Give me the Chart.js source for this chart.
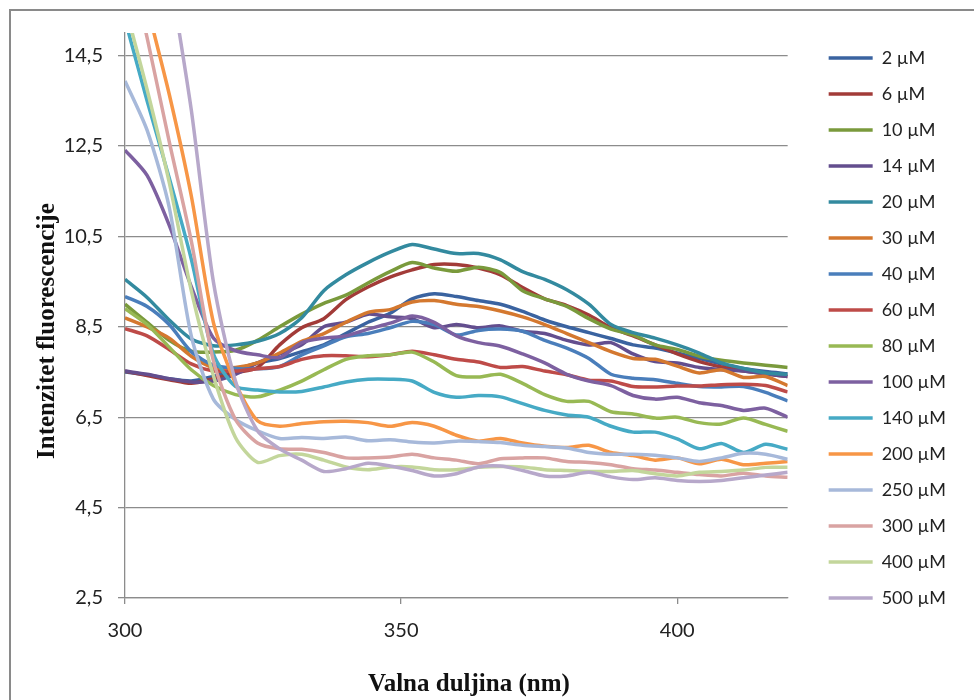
<!DOCTYPE html>
<html>
<head>
<meta charset="utf-8">
<script src="https://cdn.jsdelivr.net/npm/chart.js@4.4.1/dist/chart.umd.min.js"></script>
<style>
  body { margin: 0; background: #fff; }
  #frame { position: absolute; left: 9px; top: 9px; width: 1000px; height: 720px; border: 2px solid #8a8a8a; }
  #wrap { position: absolute; left: 0; top: 0; width: 974px; height: 700px; }
</style>
</head>
<body>
<div id="frame"></div>
<div id="wrap"><canvas id="chart"></canvas></div>
<script>
// wavelength (nm), every 4 nm
const wavelengths = [300, 304, 308, 312, 316, 320, 324, 328, 332, 336, 340, 344, 348, 352, 356, 360,
  364, 368, 372, 376, 380, 384, 388, 392, 396, 400, 404, 408, 412, 416, 420];

const xTicks = [300, 350, 400];
const yTicks = [2.5, 4.5, 6.5, 8.5, 10.5, 12.5, 14.5];

const labels = ['2 µM', '6 µM', '10 µM', '14 µM', '20 µM', '30 µM', '40 µM', '60 µM',
  '80 µM', '100 µM', '140 µM', '200 µM', '250 µM', '300 µM', '400 µM', '500 µM'];

const colors = ['#3A63A0', '#A23B38', '#7A9A3C', '#634E8E', '#338A9F', '#D4782F', '#4A7EBB', '#BE4B48',
  '#98B954', '#7D60A0', '#46AAC5', '#F79646', '#A7B9DA', '#D9A3A2', '#C3D69B', '#B7A8CA'];

const um2 = [7.5, 7.44, 7.35, 7.3, 7.4, 7.55, 7.7, 7.8, 7.95, 8.1, 8.35, 8.6, 8.8, 9.12, 9.23, 9.17,
  9.08, 9.0, 8.84, 8.65, 8.5, 8.37, 8.24, 8.1, 8.03, 7.92, 7.8, 7.68, 7.58, 7.51, 7.46];
const um6 = [7.52, 7.42, 7.33, 7.25, 7.35, 7.48, 7.6, 8.1, 8.48, 8.68, 9.1, 9.38, 9.6, 9.76, 9.88, 9.88,
  9.8, 9.65, 9.37, 9.12, 8.97, 8.76, 8.48, 8.3, 8.1, 7.9, 7.73, 7.61, 7.52, 7.46, 7.4];
const um10 = [9.0, 8.6, 8.2, 7.96, 7.94, 7.98, 8.2, 8.5, 8.78, 9.02, 9.2, 9.47, 9.72, 9.92, 9.8, 9.73,
  9.82, 9.7, 9.3, 9.12, 8.95, 8.68, 8.45, 8.32, 8.1, 8.0, 7.85, 7.76, 7.7, 7.65, 7.6];
const um14 = [7.52, 7.45, 7.35, 7.28, 7.3, 7.45, 7.7, 7.9, 8.1, 8.5, 8.6, 8.78, 8.72, 8.68, 8.48, 8.55,
  8.48, 8.52, 8.4, 8.35, 8.2, 8.1, 8.15, 7.9, 7.73, 7.7, 7.6, 7.55, 7.52, 7.46, 7.4];
const um20 = [9.55, 9.15, 8.65, 8.23, 8.08, 8.1, 8.18, 8.35, 8.7, 9.3, 9.65, 9.92, 10.15, 10.32, 10.22, 10.12,
  10.12, 9.98, 9.72, 9.55, 9.32, 9.0, 8.55, 8.37, 8.25, 8.1, 7.92, 7.7, 7.58, 7.48, 7.45];
const um30 = [8.7, 8.5, 8.25, 7.85, 7.6, 7.6, 7.7, 7.92, 8.18, 8.35, 8.6, 8.82, 8.88, 9.05, 9.08, 9.0,
  8.95, 8.85, 8.72, 8.55, 8.35, 8.15, 7.95, 7.8, 7.78, 7.63, 7.48, 7.55, 7.38, 7.4, 7.2];
const um40 = [9.17, 8.95, 8.55, 7.95, 7.65, 7.58, 7.57, 7.62, 7.88, 8.08, 8.28, 8.35, 8.48, 8.62, 8.55, 8.32,
  8.42, 8.45, 8.4, 8.2, 8.03, 7.8, 7.45, 7.36, 7.33, 7.25, 7.18, 7.17, 7.18, 7.05, 6.86];
const um60 = [8.46, 8.3, 8.0, 7.68, 7.52, 7.52, 7.57, 7.62, 7.78, 7.86, 7.86, 7.84, 7.88, 7.96, 7.88, 7.78,
  7.72, 7.6, 7.62, 7.52, 7.44, 7.32, 7.3, 7.18, 7.17, 7.19, 7.19, 7.22, 7.23, 7.2, 7.06];
const um80 = [8.9, 8.55, 8.05, 7.55, 7.2, 7.0, 6.95, 7.1, 7.3, 7.55, 7.78, 7.86, 7.88, 7.94, 7.72, 7.42,
  7.39, 7.45, 7.25, 7.0, 6.85, 6.85, 6.62, 6.57, 6.48, 6.5, 6.38, 6.35, 6.48, 6.34, 6.19];
const um100 = [12.41, 11.85, 10.75, 9.39, 8.25, 7.97, 7.88, 7.82, 8.15, 8.25, 8.3, 8.45, 8.58, 8.74, 8.6, 8.3,
  8.15, 8.07, 7.9, 7.7, 7.45, 7.3, 7.2, 6.98, 6.9, 6.94, 6.82, 6.76, 6.65, 6.7, 6.5];
const um140 = [15.3, 13.5, 11.8, 10.0, 7.9, 7.18, 7.1, 7.06, 7.07, 7.17, 7.28, 7.34, 7.34, 7.3, 7.05, 6.94,
  6.98, 6.95, 6.8, 6.65, 6.55, 6.5, 6.3, 6.17, 6.17, 6.02, 5.8, 5.92, 5.72, 5.9, 5.79];
const um200 = [17.6, 15.6, 13.65, 11.4, 8.6, 7.25, 6.42, 6.3, 6.36, 6.4, 6.41, 6.38, 6.3, 6.38, 6.3, 6.1,
  5.97, 6.03, 5.93, 5.86, 5.83, 5.88, 5.72, 5.65, 5.55, 5.6, 5.47, 5.57, 5.45, 5.48, 5.52];
const um250 = [13.94, 12.85, 11.15, 8.3, 6.9, 6.45, 6.2, 6.03, 6.05, 6.03, 6.06, 5.98, 6.0, 5.95, 5.93, 5.97,
  5.96, 5.94, 5.88, 5.85, 5.82, 5.72, 5.68, 5.68, 5.66, 5.6, 5.52, 5.6, 5.7, 5.68, 5.57];
const um300 = [17.0, 14.9, 12.6, 10.4, 7.75, 6.45, 5.93, 5.8, 5.79, 5.72, 5.6, 5.6, 5.62, 5.68, 5.6, 5.55,
  5.47, 5.58, 5.6, 5.6, 5.52, 5.5, 5.45, 5.36, 5.33, 5.28, 5.23, 5.2, 5.26, 5.2, 5.17];
const um400 = [15.6, 13.75, 11.7, 9.3, 7.42, 6.05, 5.5, 5.65, 5.68, 5.55, 5.4, 5.34, 5.4, 5.4, 5.34, 5.34,
  5.39, 5.41, 5.4, 5.34, 5.32, 5.3, 5.3, 5.32, 5.25, 5.2, 5.28, 5.3, 5.33, 5.39, 5.39];
const um500 = [22.5, 19.4, 16.4, 13.3, 9.5, 7.3, 6.2, 5.8, 5.55, 5.3, 5.36, 5.48, 5.42, 5.32, 5.2, 5.25,
  5.4, 5.42, 5.32, 5.2, 5.2, 5.28, 5.18, 5.12, 5.16, 5.1, 5.08, 5.1, 5.16, 5.22, 5.28];

const series = [um2, um6, um10, um14, um20, um30, um40, um60, um80, um100, um140, um200, um250, um300, um400, um500];

const fmt = (v) => v.toFixed(1).replace('.', ',');
const nb = '\u00a0';

// move legend to the right / up, like the Excel layout
const legendShift = {
  id: 'legendShift',
  afterLayout(chart) {
    const lg = chart.legend;
    lg.left += 23; lg.right += 23;
    lg.top -= 2; lg.bottom -= 2;
  }
};

new Chart('chart', {
  type: 'line',
  data: {
    labels: wavelengths,
    datasets: series.map((s, i) => ({
      label: labels[i],
      data: s.map((y, j) => ({ x: wavelengths[j], y: y })),
      borderColor: colors[i],
      backgroundColor: colors[i],
      borderWidth: 3.5,
      pointRadius: 0,
      tension: 0.25,
      fill: false,
      order: series.length - i   // later series drawn on top, as in Excel
    }))
  },
  plugins: [legendShift],
  options: {
    animation: false,
    responsive: true,
    maintainAspectRatio: false,
    devicePixelRatio: 1,
    layout: { padding: { top: 33, right: 41, left: 0, bottom: 0 } },
    plugins: {
      tooltip: { enabled: false },
      legend: {
        position: 'right',
        align: 'start',
        labels: {
          usePointStyle: true,
          pointStyle: 'line',
          pointStyleWidth: 44,
          padding: 18,
          color: '#222',
          font: { family: 'Lato', size: 18 },
          sort: (a, b) => a.datasetIndex - b.datasetIndex
        }
      }
    },
    scales: {
      x: {
        type: 'linear',
        min: 300,
        max: 420,
        afterBuildTicks: (s) => { s.ticks = xTicks.map(v => ({ value: v })); },
        afterFit: (s) => { s.height = 102; },
        ticks: { color: '#222', font: { family: 'Lato', size: 20 }, padding: 15 },
        grid: { drawOnChartArea: false, drawTicks: true, tickLength: 6, color: '#8c8c8c', lineWidth: 1.3 },
        border: { color: '#8c8c8c', width: 1.3 },
        title: {
          display: true,
          text: nb + nb + nb + nb + 'Valna duljina (nm)',
          color: '#111',
          font: { family: 'Liberation Serif', size: 25, weight: 'bold' },
          padding: { top: 0, bottom: 0 }
        }
      },
      y: {
        min: 2.5,
        max: 15,
        afterBuildTicks: (s) => { s.ticks = yTicks.map(v => ({ value: v })); },
        afterFit: (s) => { s.width = 125; },
        ticks: { color: '#222', font: { family: 'Lato', size: 20 }, padding: 15, callback: (v) => fmt(v) },
        grid: { color: '#8c8c8c', lineWidth: 1.3, tickLength: 7 },
        border: { color: '#8c8c8c', width: 1.3 },
        title: {
          display: true,
          text: 'Intenzitet fluorescencije' + nb + nb + nb + nb + nb,
          color: '#111',
          font: { family: 'Liberation Serif', size: 25, weight: 'bold' },
          padding: { top: 33, bottom: 0 }
        }
      }
    }
  }
});
</script>
</body>
</html>
